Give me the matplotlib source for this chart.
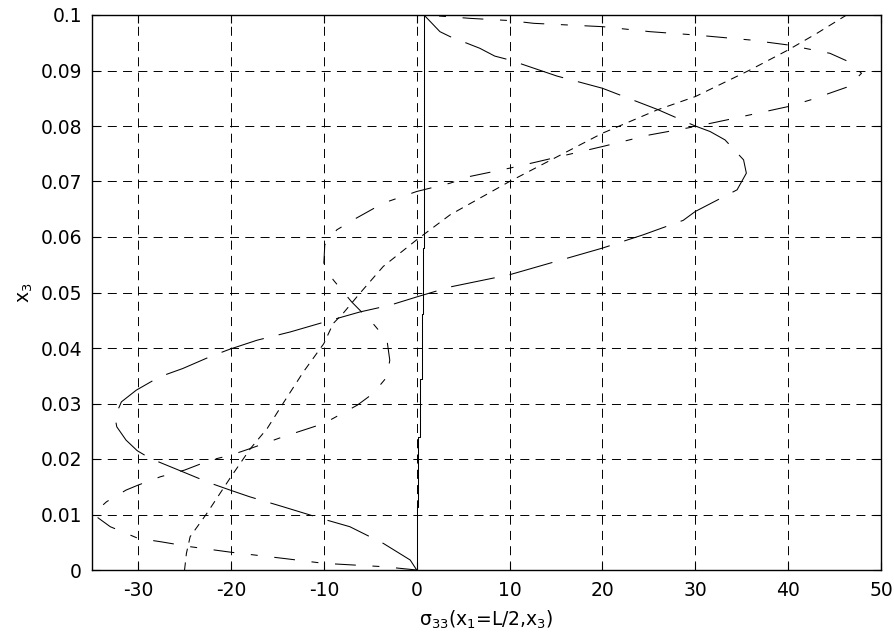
import matplotlib
matplotlib.use("Agg")
import matplotlib.pyplot as plt

plt.rcParams['font.family'] = ['DejaVu Sans']
plt.rcParams['mathtext.fontset'] = 'dejavusans'
plt.rcParams['lines.scale_dashes'] = False

# ---- data ----
solid_x = [0, 0, 0.1, 0.1, 0.36, 0.36, 0.54, 0.54, 0.65, 0.65, 0.79, 0.79]
solid_y = [0, 0.0114, 0.0114, 0.024, 0.024, 0.0345, 0.0345, 0.0462, 0.0462, 0.058, 0.058, 0.1]

dash_x = [0, -0.7, -3.6, -7.2, -9.7, -14.4, -18.0, -20.1, -22.3, -25.2, -28.7, -30.1, -31.3,
          -32.3, -32.5, -31.8, -30.2, -27.7, -25.2, -22.3, -20.1, -17.2, -13.6, -10.1, -6.1,
          -2.9, 0, 3.6, 10, 20, 24.4, 28.7, 30, 34.5, 35.5, 35.2, 33.2, 31.6, 30, 25.9, 20,
          15.1, 10, 8.4, 6.8, 3.6, 2.5, 0.9]
dash_y = [0, 0.0018, 0.0048, 0.0078, 0.009, 0.0114, 0.0132, 0.0144, 0.0157, 0.0177, 0.0201,
          0.0215, 0.0234, 0.0258, 0.0276, 0.0303, 0.0324, 0.0348, 0.0363, 0.0384, 0.0398,
          0.0414, 0.0429, 0.0446, 0.0465, 0.0477, 0.0492, 0.051, 0.0532, 0.058, 0.0604, 0.063,
          0.0646, 0.0685, 0.0715, 0.0739, 0.0775, 0.079, 0.080, 0.083, 0.0868, 0.089, 0.0919,
          0.0926, 0.094, 0.0961, 0.097, 0.0998]

dashdot_x = [0, -3.6, -10, -14.4, -20, -24.4, -27.6, -30, -33.0, -34.4, -34.6, -33.4, -31.3,
             -30, -27.6, -25, -22.2, -20, -17.9, -14.4, -10, -6.4, -4.7, -3.2, -2.9, -3.2,
             -4.7, -7.0, -9.0, -10.0, -9.9, -8.6, -6.5, -3.6, 0, 3.6, 5.7, 10, 12.6, 20, 25.1,
             30, 33.4, 40, 42.4, 46.5, 47.9, 46.5, 44.5, 40, 35.9, 30, 25.1, 20, 12.6, 10, 5.7,
             1.8, 1.0]
dashdot_y = [0, 0.0006, 0.0012, 0.0021, 0.0032, 0.0042, 0.0051, 0.0057, 0.0078, 0.0095,
             0.0105, 0.0123, 0.0144, 0.0153, 0.0168, 0.018, 0.0198, 0.0207, 0.0219, 0.024,
             0.0264, 0.0297, 0.0318, 0.0348, 0.0378, 0.0414, 0.0444, 0.0483, 0.0523, 0.0553,
             0.0586, 0.0613, 0.0634, 0.0661, 0.0682, 0.0697, 0.0709, 0.0724, 0.0734, 0.0763,
             0.0784, 0.0799, 0.0811, 0.0835, 0.0847, 0.0871, 0.0895, 0.0916, 0.0931, 0.0946,
             0.0955, 0.0964, 0.097, 0.0979, 0.0985, 0.099, 0.0994, 0.0999, 0.1]

dot_x = [-25.0, -24.8, -24.4, -22.6, -20, -17.9, -16.1, -14.4, -12.2, -10, -9.0, -7.9, -6.1,
         -3.6, 0, 3.6, 10, 20, 25.9, 30, 35.9, 40, 43.1, 46.2]
dot_y = [0, 0.003, 0.006, 0.0102, 0.0168, 0.0219, 0.0255, 0.03, 0.0357, 0.0408, 0.0444,
         0.0463, 0.0499, 0.0547, 0.0595, 0.064, 0.07, 0.0787, 0.0829, 0.0853, 0.0901, 0.0937,
         0.0967, 0.0999]

x_ticks = [-30, -20, -10, 0, 10, 20, 30, 40, 50]
y_ticks = [0, 0.01, 0.02, 0.03, 0.04, 0.05, 0.06, 0.07, 0.08, 0.09, 0.1]
y_tick_labels = ['0', '0.01', '0.02', '0.03', '0.04', '0.05', '0.06', '0.07', '0.08', '0.09', '0.1']

# ---- figure ----
W, H = 895, 641
fig = plt.figure(figsize=(W / 100, H / 100), dpi=100)
left, right, top, bottom = 91.7, 881.0, 15.0, 570.0
ax = fig.add_axes([left / W, 1 - bottom / H, (right - left) / W, (bottom - top) / H])

lw = 0.75
ax.plot(solid_x, solid_y, color='black', lw=lw, linestyle='-')
ax.plot(dash_x, dash_y, color='black', lw=lw, linestyle=(0, (32, 11)))
ax.plot(dashdot_x, dashdot_y, color='black', lw=lw, linestyle=(0, (15, 12, 5, 12)))
ax.plot(dot_x, dot_y, color='black', lw=lw, linestyle=(0, (5.5, 4.5)))

ax.set_xlim(-35, 50)
ax.set_ylim(0, 0.1)
ax.set_xticks(x_ticks)
ax.set_xticklabels([str(v) for v in x_ticks])
ax.set_yticks(y_ticks)
ax.set_yticklabels(y_tick_labels)

ax.grid(True, color='black', linewidth=0.7, linestyle=(0, (6.5, 4.5)))
ax.set_axisbelow(True)

for s in ax.spines.values():
    s.set_linewidth(1.0)
    s.set_color('black')

ax.tick_params(direction='in', length=5.5, width=0.8, top=True, right=True,
               labelsize=13.5, colors='black')
ax.tick_params(axis='x', pad=8)
ax.tick_params(axis='y', pad=7)

ax.set_xlabel(r'$\mathrm{\sigma_{33}(x_1}$=L/2,x$_3$)', fontsize=13.5, labelpad=6)
ax.set_ylabel(r'x$_3$', fontsize=13.5, labelpad=4)

fig.savefig('out.png', dpi=100)
